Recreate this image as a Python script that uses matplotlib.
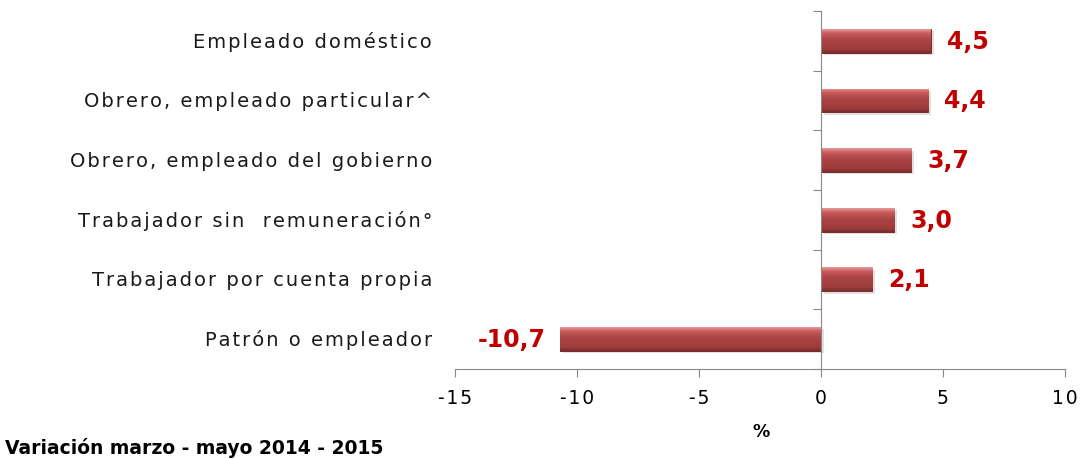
import matplotlib
matplotlib.use("Agg")
import matplotlib.pyplot as plt
import matplotlib.transforms as mtransforms
import numpy as np
from matplotlib.colors import LinearSegmentedColormap

categories = [
    "Patrón o empleador",
    "Trabajador por cuenta propia",
    "Trabajador sin  remuneración°",
    "Obrero, empleado del gobierno",
    "Obrero, empleado particular^",
    "Empleado doméstico",
]
values = [-10.7, 2.1, 3.0, 3.7, 4.4, 4.5]
value_labels = ["-10,7", "2,1", "3,0", "3,7", "4,4", "4,5"]
xticks = [-15, -10, -5, 0, 5, 10]

plt.rcParams["font.family"] = ["DejaVu Sans"]

HAIR = "\u200a"


def spaced(s):
    """Loosen the tracking of a label by putting hair spaces between letters."""
    return HAIR.join(s)


fig = plt.figure(figsize=(10.81, 4.60), dpi=100)
ax = fig.add_axes([0.421, 0.196, 0.564, 0.778])

bar_h = 0.4
cmap = LinearSegmentedColormap.from_list(
    "barshade",
    [(0.0, "#e89a9a"), (0.18, "#c85a5a"), (0.45, "#ab4444"),
     (0.85, "#9e3c3c"), (1.0, "#7c2c2c")])
grad = np.linspace(0, 1, 64).reshape(-1, 1)

ypos = np.arange(len(categories))
bars = ax.barh(ypos, values, height=bar_h, color="#a64040",
               edgecolor="#7a2a2a", linewidth=0.7, zorder=2)
for b in bars:
    x0, y0 = b.get_x(), b.get_y()
    w, h = b.get_width(), b.get_height()
    # soft drop shadow under each bar
    ax.add_patch(plt.Rectangle((x0 + 0.12, y0 - 0.04), w, h,
                               facecolor="#000000", alpha=0.12,
                               edgecolor="none", zorder=1.5))
    # vertical shading: light rim on top, darker towards the bottom
    im = ax.imshow(grad, cmap=cmap, aspect="auto",
                   extent=[x0, x0 + w, y0, y0 + h],
                   zorder=2.5, interpolation="bicubic")
    im.set_clip_path(b)

ax.set_xlim(-15, 10)
ax.set_ylim(-0.5, len(categories) - 0.5)

for y, v, lab in zip(ypos, values, value_labels):
    if v >= 0:
        ax.text(v + 0.65, y, lab, ha="left", va="center", color="#c00000",
                fontsize=17, fontweight="bold")
    else:
        ax.text(v - 0.6, y, lab, ha="right", va="center", color="#c00000",
                fontsize=17, fontweight="bold")

# category names sit to the left of the plotting area
lab_tr = mtransforms.blended_transform_factory(ax.transAxes, ax.transData)
for y, c in zip(ypos, categories):
    ax.text(-0.0377, y, spaced(c), transform=lab_tr, ha="right",
            va="center", fontsize=14, color="#1a1a1a")

ax.set_xticks(xticks)
ax.set_xticklabels([spaced(str(t)) for t in xticks], fontsize=13.5)
ax.set_yticks(np.arange(-0.5, len(categories), 1.0))
ax.set_yticklabels([])

ax.tick_params(axis="y", length=6, color="#888888", direction="out")
ax.tick_params(axis="x", length=6, color="#888888", direction="out", pad=8)

for s in ["top", "right"]:
    ax.spines[s].set_visible(False)
ax.spines["left"].set_position(("data", 0))
ax.spines["left"].set_color("#888888")
ax.spines["bottom"].set_color("#888888")
ax.spines["left"].set_zorder(3)

fig.text(0.704, 0.06, "%", ha="center", va="center", fontsize=12.5,
         fontweight="bold")
fig.text(0.005, 0.012, "Variación marzo - mayo 2014 - 2015", ha="left",
         va="baseline", fontsize=13.5, fontweight="bold")

fig.savefig("out.png", dpi=100)
